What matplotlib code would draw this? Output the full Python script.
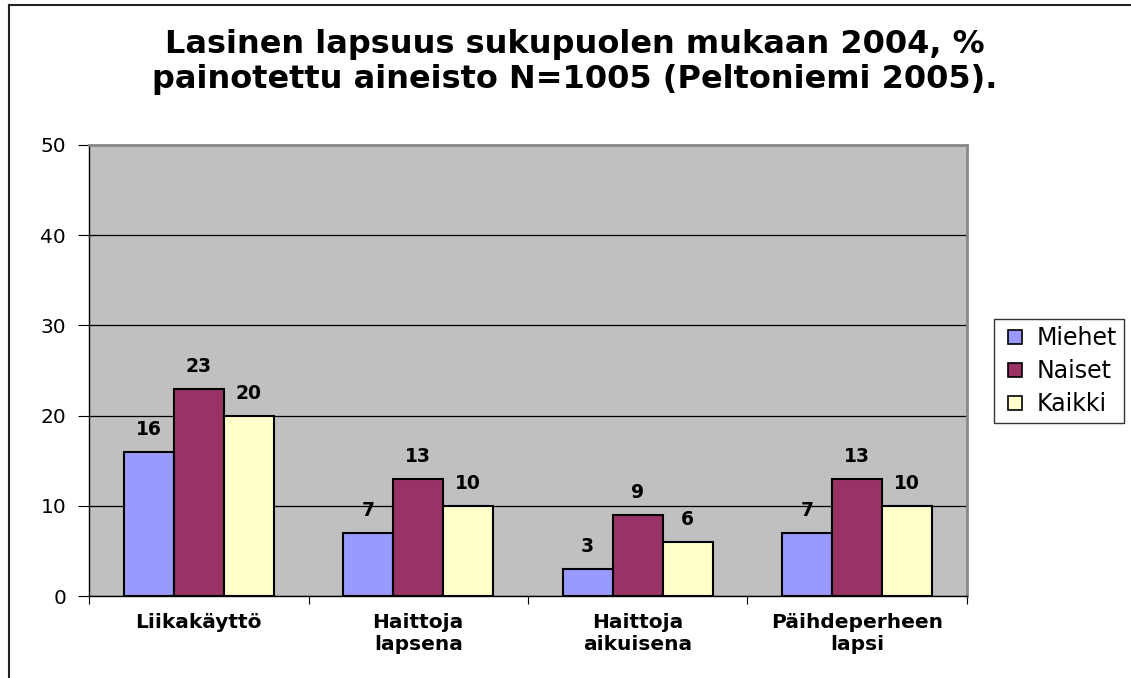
import matplotlib
matplotlib.use("Agg")
import matplotlib.pyplot as plt
import numpy as np
from matplotlib.lines import Line2D

categories = ["Liikakäyttö", "Haittoja\nlapsena", "Haittoja\naikuisena", "Päihdeperheen\nlapsi"]
series_names = ["Miehet", "Naiset", "Kaikki"]
miehet = [16, 7, 3, 7]
naiset = [23, 13, 9, 13]
kaikki = [20, 10, 6, 10]
yticks = [0, 10, 20, 30, 40, 50]
title = "Lasinen lapsuus sukupuolen mukaan 2004, %\npainotettu aineisto N=1005 (Peltoniemi 2005)."

colors = ["#9999FF", "#993366", "#FFFFCC"]

plt.rcParams['font.family'] = ['DejaVu Sans']

fig = plt.figure(figsize=(11.31, 6.78), dpi=100)
fig.patch.set_facecolor("white")

ax = fig.add_axes([89/1131, 1-596/678, (967-89)/1131, (596-145)/678])
ax.set_facecolor("#C0C0C0")

x = np.arange(len(categories))
w = 0.228
for i, (vals, name) in enumerate(zip([miehet, naiset, kaikki], series_names)):
    pos = x + (i - 1) * w
    ax.bar(pos, vals, w, color=colors[i], edgecolor="black", linewidth=1.5,
           label=name, zorder=3)
    for xp, v in zip(pos, vals):
        ax.annotate(str(v), (xp, v), xytext=(0, 9), textcoords="offset points",
                    ha="center", va="bottom", fontsize=13.5, fontweight="bold", zorder=4)

ax.set_xlim(-0.5, len(categories) - 0.5)
ax.set_ylim(0, 50)
ax.set_yticks(yticks)
ax.set_yticklabels([str(t) for t in yticks], fontsize=14.5)
ax.yaxis.grid(True, color="black", linewidth=0.9, zorder=1)
ax.set_axisbelow(True)

ax.set_xticks(np.arange(-0.5, len(categories) + 0.5, 1.0))
ax.set_xticklabels([])
ax.set_xticks(x, minor=True)
ax.set_xticklabels(categories, minor=True, fontsize=14.5, fontweight="bold",
                   linespacing=1.2)
ax.tick_params(axis="x", which="minor", length=0, pad=12)
ax.tick_params(axis="x", which="major", length=6, direction="out", color="black")
ax.tick_params(axis="y", length=8, direction="out", color="black", pad=8.5)

for s in ["left", "bottom"]:
    ax.spines[s].set_color("black")
    ax.spines[s].set_linewidth(1.0)
for s in ["top", "right"]:
    ax.spines[s].set_color("#888888")
    ax.spines[s].set_linewidth(2.0)

fig.text(575/1131, 1-62/678, title, ha="center", va="center", fontsize=23,
         fontweight="bold", linespacing=1.18)

handles = [Line2D([], [], linestyle="none", marker="s", markersize=10,
                  markerfacecolor=c, markeredgecolor="black", markeredgewidth=1.2)
           for c in colors]
leg = fig.legend(handles, series_names, loc="upper left",
                 bbox_to_anchor=(994/1131, 1-319/678),
                 fontsize=17, frameon=True, fancybox=False, edgecolor="black",
                 handlelength=1.19, handletextpad=0.3,
                 borderpad=0.3, labelspacing=0.38, borderaxespad=0)
leg.get_frame().set_linewidth(1.0)

# outer chart border (left and top)
fig.add_artist(Line2D([9/1131, 9/1131], [0, 1-5/678], color="#222222", linewidth=1.5,
                      transform=fig.transFigure))
fig.add_artist(Line2D([9/1131, 1], [1-5/678, 1-5/678], color="#222222", linewidth=1.5,
                      transform=fig.transFigure))

fig.savefig("out.png", dpi=100)
